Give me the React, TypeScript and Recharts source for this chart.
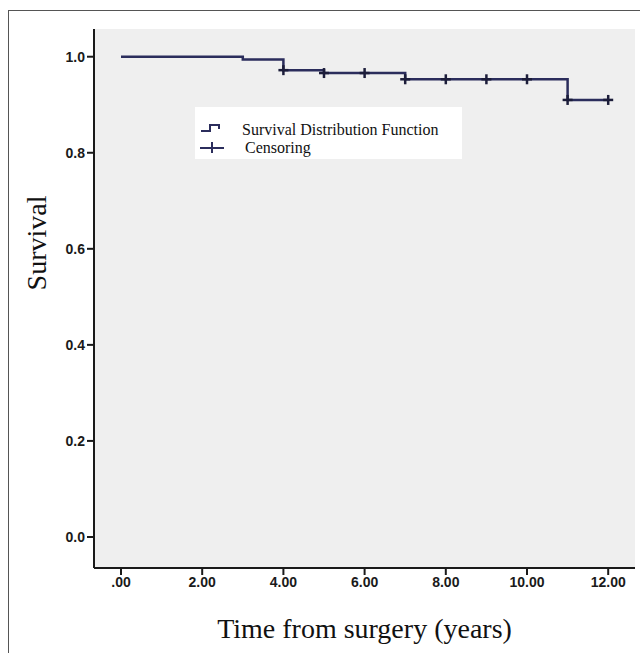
import React from "react";
import {
  ComposedChart,
  Line,
  Scatter,
  XAxis,
  YAxis,
  CartesianGrid,
} from "recharts";

// Kaplan-Meier steps (time in years, survival)
const stepTimes = [0, 3, 4, 5, 7, 11, 12];
const stepSurvival = [1.0, 0.994, 0.972, 0.966, 0.953, 0.91, 0.91];

// censored observations
const censorTimes = [4, 5, 6, 7, 8, 9, 10, 11, 12];
const censorSurvival = [0.972, 0.966, 0.966, 0.953, 0.953, 0.953, 0.953, 0.91, 0.91];

const xTicks = [0, 2, 4, 6, 8, 10, 12];
const yTicks = [0, 0.2, 0.4, 0.6, 0.8, 1.0];

const kmData = stepTimes.map((t, i) => ({ t, s: stepSurvival[i] }));
const censorData = censorTimes.map((t, i) => ({ t, s: censorSurvival[i] }));

const xDomain: [number, number] = [-0.665, 12.66];
const yDomain: [number, number] = [-0.0646, 1.0577];

const navy = "#2b2d5c";
const serif = "'Liberation Serif', 'Times New Roman', serif";
const sans = "'Liberation Sans', Arial, sans-serif";

function CensorMark(props: any) {
  const { cx, cy } = props;
  if (cx == null || cy == null) return null;
  return (
    <g stroke="#1c1d3a" strokeWidth={2.5}>
      <line x1={cx - 5} y1={cy} x2={cx + 5} y2={cy} />
      <line x1={cx} y1={cy - 5} x2={cx} y2={cy + 5} />
    </g>
  );
}

function LegendBox() {
  return (
    <div
      style={{
        position: "absolute",
        left: 195,
        top: 107,
        width: 267,
        height: 52,
        background: "#fff",
        fontFamily: serif,
        fontSize: 16,
        color: "#111",
      }}
    >
      <svg width={30} height={52} style={{ position: "absolute", left: 0, top: 0 }}>
        <path d="M6 24 H15 V18 H24 V22" fill="none" stroke={navy} strokeWidth={2} />
        <g stroke={navy} strokeWidth={2}>
          <line x1={5} y1={41} x2={29} y2={41} />
          <line x1={17} y1={35} x2={17} y2={46} />
        </g>
      </svg>
      <div style={{ position: "absolute", left: 47, top: 14, whiteSpace: "nowrap" }}>
        Survival Distribution Function
      </div>
      <div style={{ position: "absolute", left: 50, top: 32, whiteSpace: "nowrap" }}>
        Censoring
      </div>
    </div>
  );
}

export default function App() {
  return (
    <div
      style={{
        position: "absolute",
        left: 0,
        top: 0,
        width: 640,
        height: 653,
        background: "#fff",
        overflow: "hidden",
      }}
    >
      <div
        style={{
          position: "absolute",
          left: 8,
          top: 10,
          width: 640,
          height: 653,
          borderLeft: "1.5px solid #555",
          borderTop: "1.5px solid #555",
        }}
      />
      <ComposedChart
        width={640}
        height={653}
        margin={{ top: 29, right: 5, bottom: 55, left: 0 }}
      >
        <CartesianGrid fill="#efefef" stroke="none" horizontal={false} vertical={false} />
        <XAxis
          dataKey="t"
          type="number"
          domain={xDomain}
          allowDataOverflow
          ticks={xTicks}
          tickFormatter={(v: number) => (v === 0 ? ".00" : v.toFixed(2))}
          tickSize={7}
          height={30}
          axisLine={{ stroke: "#1a1a1a", strokeWidth: 2 }}
          tickLine={{ stroke: "#1a1a1a", strokeWidth: 2 }}
          tick={{ fill: "#1a1a1a", fontSize: 14, fontWeight: 700, fontFamily: sans }}
          label={{
            value: "Time from surgery (years)",
            position: "bottom",
            offset: 20,
            style: { fontFamily: serif, fontSize: 28, fill: "#111" },
          }}
        />
        <XAxis
          xAxisId="top"
          orientation="top"
          type="number"
          domain={xDomain}
          allowDataOverflow
          height={0}
          tick={false}
          tickLine={false}
          axisLine={{ stroke: "#7a7a7a", strokeWidth: 2 }}
        />
        <YAxis
          type="number"
          domain={yDomain}
          allowDataOverflow
          ticks={yTicks}
          tickFormatter={(v: number) => v.toFixed(1)}
          tickSize={7}
          width={94}
          axisLine={{ stroke: "#1a1a1a", strokeWidth: 2 }}
          tickLine={{ stroke: "#1a1a1a", strokeWidth: 2 }}
          tick={{ fill: "#1a1a1a", fontSize: 14, fontWeight: 700, fontFamily: sans }}
          label={{
            content: () => (
              <text
                x={46}
                y={243}
                transform="rotate(-90 46 243)"
                textAnchor="middle"
                style={{ fontFamily: serif, fontSize: 28, fill: "#111" }}
              >
                Survival
              </text>
            ),
          }}
        />
        <YAxis
          yAxisId="right"
          orientation="right"
          type="number"
          domain={yDomain}
          allowDataOverflow
          width={0}
          tick={false}
          tickLine={false}
          axisLine={{ stroke: "#7a7a7a", strokeWidth: 2 }}
        />
        <Line
          data={kmData}
          dataKey="s"
          type="stepAfter"
          stroke={navy}
          strokeWidth={2.5}
          dot={false}
          isAnimationActive={false}
        />
        <Scatter
          data={censorData}
          dataKey="s"
          shape={<CensorMark />}
          isAnimationActive={false}
        />
      </ComposedChart>
      <LegendBox />
    </div>
  );
}
